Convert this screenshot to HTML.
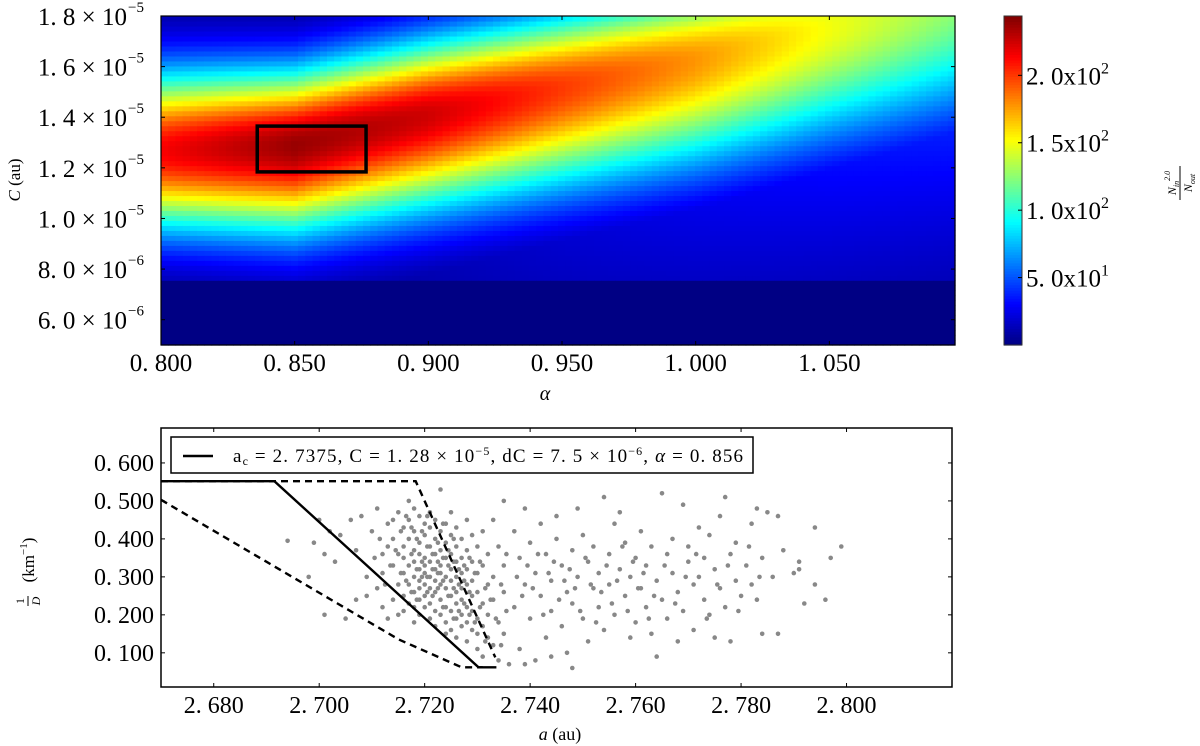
<!DOCTYPE html>
<html><head><meta charset="utf-8"><style>
html,body{margin:0;padding:0;background:#fff;}
svg{display:block;font-family:"Liberation Serif",serif;}
</style></head><body>
<svg id="fig" width="1200" height="746" viewBox="0 0 1200 746">
<g id="heat"></g>
<g id="cbar"></g>
<g id="top-axes"></g>
<g id="bot"></g>
</svg>
<script>
// ---------- top heatmap data ----------
const ridgeAlpha = [0.80, 0.85, 0.90, 0.95, 1.00, 1.05, 1.10];
const ridgeCenter = [1.27, 1.29, 1.41, 1.52, 1.63, 1.76, 1.88]; // x1e-5
const ridgePeak = [215, 238, 225, 200, 178, 150, 125];
const ridgeSigLow = [0.22, 0.24, 0.26, 0.28, 0.30, 0.32, 0.34];
const ridgeSigHigh = [0.22, 0.21, 0.21, 0.21, 0.21, 0.22, 0.22];
const ridgeTail = [0, 8, 18, 28, 36, 44, 50];
const tailSigma = 0.7;
const cutoffC = 0.76; // below this C (x1e-5) values are ~0
const cbarTicks = [50, 100, 150, 200];
const cbarTickLabels = ["5. 0x10", "1. 0x10", "1. 5x10", "2. 0x10"];
const cbarTickExp = ["1", "2", "2", "2"];
const topXTicks = [0.800, 0.850, 0.900, 0.950, 1.000, 1.050];
const topXTickLabels = ["0. 800", "0. 850", "0. 900", "0. 950", "1. 000", "1. 050"];
const topYTicks = [0.6, 0.8, 1.0, 1.2, 1.4, 1.6, 1.8];
const topYMant = ["6. 0", "8. 0", "1. 0", "1. 2", "1. 4", "1. 6", "1. 8"];
const topYExp = ["−6", "−6", "−5", "−5", "−5", "−5", "−5"];
const boxAlpha = [0.836, 0.8767];
const boxC = [1.184, 1.365];

// ---------- bottom scatter data ----------
const botXTicks = [2.68, 2.70, 2.72, 2.74, 2.76, 2.78, 2.80];
const botXTickLabels = ["2. 680", "2. 700", "2. 720", "2. 740", "2. 760", "2. 780", "2. 800"];
const botYTicks = [0.1, 0.2, 0.3, 0.4, 0.5, 0.6];
const botYTickLabels = ["0. 100", "0. 200", "0. 300", "0. 400", "0. 500", "0. 600"];
const solidLine = [[2.670,0.552],[2.6915,0.552],[2.7302,0.062],[2.7336,0.062]];
const dashUpper = [[2.670,0.552],[2.7183,0.552],[2.7334,0.088]];
const dashLower = [[2.670,0.503],[2.7151,0.135],[2.727,0.062],[2.731,0.062]];
const scatter = [[2.694,0.395],[2.699,0.39],[2.701,0.36],[2.703,0.34],[2.701,0.20],[2.698,0.30],[2.705,0.19],[2.707,0.24],[2.700,0.45],[2.702,0.42],[2.704,0.41],[2.706,0.45],[2.707,0.37],[2.709,0.30],[2.708,0.46],[2.710,0.42],[2.711,0.27],[2.709,0.25],[2.712,0.22],[2.713,0.19],[2.711,0.48],[2.713,0.44],[2.714,0.40],[2.712,0.36],[2.714,0.33],[2.715,0.28],
[2.715,0.47],[2.716,0.43],[2.716,0.38],[2.716,0.35],[2.716,0.31],[2.716,0.25],[2.716,0.21],[2.717,0.50],[2.717,0.45],[2.717,0.40],[2.717,0.33],[2.717,0.28],[2.717,0.23],[2.718,0.48],[2.718,0.42],[2.718,0.37],[2.718,0.34],[2.718,0.30],[2.718,0.26],[2.718,0.22],[2.718,0.18],[2.719,0.46],[2.719,0.39],[2.719,0.36],[2.719,0.32],[2.719,0.29],[2.719,0.27],[2.719,0.24],[2.719,0.20],[2.720,0.44],[2.720,0.41],[2.720,0.35],[2.720,0.33],[2.720,0.31],[2.720,0.28],[2.720,0.25],[2.720,0.22],[2.721,0.47],[2.721,0.43],[2.721,0.38],[2.721,0.34],[2.721,0.30],[2.721,0.27],[2.721,0.23],[2.721,0.19],[2.722,0.45],[2.722,0.40],[2.722,0.36],[2.722,0.32],[2.722,0.29],[2.722,0.26],[2.722,0.21],[2.722,0.17],[2.723,0.53],[2.723,0.42],[2.723,0.37],[2.723,0.33],[2.723,0.31],[2.723,0.28],[2.723,0.24],[2.723,0.20],[2.724,0.44],[2.724,0.39],[2.724,0.35],[2.724,0.30],[2.724,0.27],[2.724,0.22],[2.724,0.18],[2.724,0.15],[2.725,0.47],[2.725,0.41],[2.725,0.36],[2.725,0.32],[2.725,0.29],[2.725,0.25],[2.725,0.21],[2.725,0.16],[2.726,0.43],[2.726,0.38],[2.726,0.34],[2.726,0.30],[2.726,0.26],[2.726,0.23],[2.726,0.19],[2.726,0.14],[2.727,0.40],[2.727,0.35],[2.727,0.31],[2.727,0.27],[2.727,0.24],[2.727,0.20],[2.727,0.17],[2.728,0.45],[2.728,0.37],[2.728,0.32],[2.728,0.28],[2.728,0.22],[2.728,0.18],[2.728,0.13],[2.729,0.41],[2.729,0.34],[2.729,0.29],[2.729,0.25],[2.729,0.21],[2.729,0.16],[2.730,0.38],[2.730,0.31],[2.730,0.26],[2.730,0.19],[2.730,0.15],[2.730,0.11],[2.731,0.42],[2.731,0.33],[2.731,0.23],[2.731,0.17],[2.731,0.09],[2.732,0.36],[2.732,0.28],[2.732,0.20],[2.732,0.14],[2.733,0.45],[2.733,0.30],[2.733,0.24],[2.733,0.12],[2.734,0.38],[2.734,0.18],[2.734,0.08],[2.735,0.50],[2.735,0.33],[2.735,0.26],[2.735,0.15],
[2.712,0.31],[2.713,0.38],[2.714,0.24],[2.714,0.45],[2.715,0.36],[2.715,0.20],
[2.7165,0.29],[2.7175,0.36],[2.7185,0.32],[2.7195,0.34],[2.7205,0.30],[2.7215,0.32],[2.7225,0.34],[2.7235,0.29],[2.7245,0.33],[2.7255,0.27],[2.7265,0.32],[2.7275,0.29],[2.7185,0.40],[2.7205,0.38],[2.7225,0.27],[2.7245,0.25],[2.7265,0.21],[2.7285,0.20],
[2.7105,0.35],[2.7115,0.40],[2.7125,0.28],[2.7135,0.33],[2.7145,0.37],[2.7155,0.31],[2.7155,0.42],[2.7165,0.46],[2.7175,0.26],[2.7175,0.43],[2.7185,0.24],[2.7195,0.42],[2.7195,0.30],[2.7205,0.26],[2.7205,0.46],[2.7215,0.36],[2.7215,0.25],[2.7225,0.39],[2.7225,0.31],[2.7235,0.35],[2.7235,0.44],[2.7235,0.22],[2.7245,0.37],[2.7255,0.34],[2.7255,0.40],[2.7255,0.19],[2.7265,0.28],[2.7275,0.33],[2.7275,0.23],[2.7285,0.26],[2.7285,0.35],[2.7295,0.31],[2.7295,0.18],[2.7305,0.22],[2.7305,0.34],[2.7315,0.27],[2.7315,0.13],[2.7325,0.24],[2.7335,0.19],[2.7345,0.28],[2.7345,0.12],[2.7355,0.21],[2.7355,0.36],
[2.737,0.42],[2.737,0.22],[2.738,0.35],[2.738,0.11],[2.739,0.28],[2.739,0.48],[2.740,0.19],[2.740,0.39],[2.741,0.31],[2.741,0.08],[2.742,0.25],[2.742,0.44],[2.743,0.36],[2.743,0.14],[2.744,0.29],[2.744,0.21],[2.745,0.40],[2.745,0.46],[2.746,0.33],[2.746,0.17],[2.747,0.26],[2.747,0.10],[2.748,0.37],[2.748,0.23],[2.749,0.30],[2.749,0.48],[2.750,0.19],[2.750,0.41],[2.751,0.34],[2.751,0.13],[2.752,0.27],[2.752,0.38],[2.753,0.22],[2.753,0.31],[2.754,0.51],[2.754,0.16],[2.755,0.36],[2.755,0.28],[2.756,0.44],[2.756,0.20],[2.757,0.47],[2.757,0.32],[2.758,0.25],[2.758,0.39],[2.759,0.14],[2.759,0.30],[2.760,0.35],[2.760,0.18],[2.761,0.42],[2.761,0.27],[2.762,0.33],[2.762,0.22],[2.763,0.38],[2.763,0.15],[2.764,0.29],[2.764,0.09],[2.765,0.52],[2.765,0.24],[2.766,0.36],[2.766,0.19],[2.767,0.40],[2.767,0.31],[2.768,0.13],[2.768,0.26],[2.769,0.49],[2.769,0.21],[2.770,0.34],[2.770,0.38],[2.771,0.28],[2.771,0.16],[2.772,0.43],[2.772,0.30],[2.773,0.24],[2.773,0.35],[2.774,0.20],[2.774,0.41],[2.775,0.32],[2.775,0.14],[2.776,0.46],[2.776,0.27],[2.777,0.51],[2.777,0.22],[2.778,0.36],[2.778,0.13],[2.779,0.39],[2.779,0.29],[2.780,0.25],[2.781,0.33],[2.782,0.44],[2.782,0.28],[2.783,0.48],[2.783,0.24],[2.784,0.35],[2.784,0.15],[2.785,0.47],[2.786,0.30],[2.787,0.15],[2.787,0.46],[2.788,0.37],[2.790,0.31],[2.791,0.34],[2.791,0.32],[2.792,0.23],[2.794,0.43],[2.794,0.28],[2.796,0.24],[2.797,0.35],[2.799,0.38],
[2.736,0.07],[2.739,0.07],[2.744,0.09],[2.748,0.06],
[2.7375,0.30],[2.7385,0.25],[2.7395,0.33],[2.7405,0.27],[2.7415,0.36],[2.7425,0.20],[2.7435,0.31],[2.7445,0.34],[2.7455,0.24],[2.7465,0.29],[2.7475,0.32],[2.7485,0.27],[2.7495,0.21],[2.7505,0.35],[2.7515,0.28],[2.7525,0.18],[2.7535,0.26],[2.7545,0.33],[2.7555,0.23],[2.7565,0.29],[2.7575,0.38],[2.7585,0.21],[2.7595,0.34],[2.7605,0.27],[2.7615,0.31],[2.7625,0.19],[2.7635,0.25],[2.7655,0.33],[2.7675,0.23],[2.7695,0.30],[2.7715,0.36],[2.7735,0.19],[2.7755,0.28],[2.7775,0.33],[2.7795,0.21],[2.7815,0.38],[2.7835,0.30]];

const NS = "http://www.w3.org/2000/svg";
function mk(tag, attrs, parent){const e=document.createElementNS(NS,tag);for(const k in attrs)e.setAttribute(k,attrs[k]);parent.appendChild(e);return e;}

const T = {x0:161, x1:955, y0:16, y1:345, amin:0.8, amax:1.097, cmin:0.5, cmax:1.8};
const tx = a => T.x0 + (a - T.amin)/(T.amax - T.amin)*(T.x1 - T.x0);
const ty = c => T.y1 - (c - T.cmin)/(T.cmax - T.cmin)*(T.y1 - T.y0);
const CB = {x0:1004, x1:1022, y0:16, y1:345, vmin:0, vmax:244};
const cby = v => CB.y1 - (v - CB.vmin)/(CB.vmax - CB.vmin)*(CB.y1 - CB.y0);
const B = {x0:161, x1:952, y0:428, y1:687, amin:2.67, amax:2.82, vmin:0.01, vmax:0.692};
const bx = a => B.x0 + (a - B.amin)/(B.amax - B.amin)*(B.x1 - B.x0);
const by = v => B.y1 - (v - B.vmin)/(B.vmax - B.vmin)*(B.y1 - B.y0);

function jet(t){t=Math.max(0,Math.min(1,t));const c=x=>Math.round(255*Math.max(0,Math.min(1,x)));
 return `rgb(${c(1.5-Math.abs(4*t-3))},${c(1.5-Math.abs(4*t-2))},${c(1.5-Math.abs(4*t-1))})`;}
function interp(arr, a){
 if(a<=ridgeAlpha[0])return arr[0];
 for(let i=0;i<ridgeAlpha.length-1;i++){if(a<=ridgeAlpha[i+1]){const f=(a-ridgeAlpha[i])/(ridgeAlpha[i+1]-ridgeAlpha[i]);return arr[i]+f*(arr[i+1]-arr[i]);}}
 return arr[arr.length-1];}
function cellValue(a,c){
 if(c<cutoffC)return 1;
 const ctr=interp(ridgeCenter,a),pk=interp(ridgePeak,a);
 const s=c<ctr?interp(ridgeSigLow,a):interp(ridgeSigHigh,a);
 const d=c-ctr;let v=pk*Math.exp(-d*d/(2*s*s));
 if(c<ctr){v=Math.max(v,interp(ridgeTail,a)*Math.exp(-d*d/(2*tailSigma*tailSigma)));}
 return v;}

const heat=document.getElementById('heat');
const NC=110, NR=66;
for(let i=0;i<NC;i++){
 const a0=T.amin+i*(T.amax-T.amin)/NC, a1=T.amin+(i+1)*(T.amax-T.amin)/NC;
 for(let j=0;j<NR;j++){
  const c0=T.cmin+j*(T.cmax-T.cmin)/NR, c1=T.cmin+(j+1)*(T.cmax-T.cmin)/NR;
  const v=cellValue((a0+a1)/2,(c0+c1)/2);
  const r=mk('rect',{x:tx(a0).toFixed(2),y:ty(c1).toFixed(2),width:(tx(a1)-tx(a0)+0.6).toFixed(2),height:(ty(c0)-ty(c1)+0.6).toFixed(2),fill:jet((v-CB.vmin)/(CB.vmax-CB.vmin))},heat);
  
  
 }
}
const ta=document.getElementById('top-axes');
const box=mk('rect',{x:tx(boxAlpha[0]),y:ty(boxC[1]),width:tx(boxAlpha[1])-tx(boxAlpha[0]),height:ty(boxC[0])-ty(boxC[1]),fill:'none',stroke:'#000','stroke-width':3.5},ta);


const tf=mk('rect',{x:T.x0,y:T.y0,width:T.x1-T.x0,height:T.y1-T.y0,fill:'none',stroke:'#000','stroke-width':1.2},ta);


topXTicks.forEach((a,i)=>{
 mk('line',{x1:tx(a),x2:tx(a),y1:T.y1,y2:T.y1-4,stroke:'#000'},ta);mk('line',{x1:tx(a),x2:tx(a),y1:T.y0,y2:T.y0+4,stroke:'#000'},ta);
 const t=mk('text',{x:tx(a),y:371,'text-anchor':'middle','font-size':25},ta);t.textContent=topXTickLabels[i];
 
 
});
topYTicks.forEach((c,i)=>{
 mk('line',{x1:T.x0,x2:T.x0+4,y1:ty(c),y2:ty(c),stroke:'#000'},ta);mk('line',{x1:T.x1,x2:T.x1-4,y1:ty(c),y2:ty(c),stroke:'#000'},ta);
 const t=mk('text',{x:127,y:ty(c)+9,'text-anchor':'end','font-size':25},ta);
 t.textContent=topYMant[i]+" × 10";
 
 
 const e=mk('text',{x:128,y:ty(c)-4,'font-size':15},ta);e.textContent=topYExp[i];
 
 
});
const cb=document.getElementById('cbar');
for(let k=0;k<120;k++){
 const v0=CB.vmin+k*(CB.vmax-CB.vmin)/120, v1=CB.vmin+(k+1)*(CB.vmax-CB.vmin)/120;
 const r=mk('rect',{x:CB.x0,y:cby(v1),width:CB.x1-CB.x0,height:cby(v0)-cby(v1)+0.6,fill:jet((v0+v1)/2/CB.vmax)},cb);
 
 
}
mk('rect',{x:CB.x0,y:CB.y0,width:CB.x1-CB.x0,height:CB.y1-CB.y0,fill:'none',stroke:'#333','stroke-width':1},cb);
cbarTicks.forEach((v,i)=>{
 mk('line',{x1:CB.x1,x2:CB.x1-4,y1:cby(v),y2:cby(v),stroke:'#000'},cb);
 const t=mk('text',{x:1026,y:cby(v)+9,'font-size':25},cb);
 
 
 const m=mk('tspan',{},t);m.textContent=cbarTickLabels[i];
 const e=mk('tspan',{'font-size':16,dy:-11},t);e.textContent=cbarTickExp[i];
});

const bt=document.getElementById('bot');
function path(pts,dash,name){const d=pts.map((p,i)=>(i?'L':'M')+bx(p[0]).toFixed(1)+' '+by(p[1]).toFixed(1)).join(' ');
 const p=mk('path',{d:d,fill:'none',stroke:'#000','stroke-width':2.4,'stroke-dasharray':dash||'none'},bt);
 
 }
scatter.forEach(p=>{
 const c=mk('circle',{cx:bx(p[0]).toFixed(1),cy:by(p[1]).toFixed(1),r:2.3,fill:'#888'},bt);
 
 
});
path(solidLine,null,'solid-boundary-line');
path(dashUpper,'7,5','dashed-upper-line');
path(dashLower,'7,5','dashed-lower-line');
const bf=mk('rect',{x:B.x0,y:B.y0,width:B.x1-B.x0,height:B.y1-B.y0,fill:'none',stroke:'#000','stroke-width':1.5},bt);


botXTicks.forEach((a,i)=>{
 mk('line',{x1:bx(a),x2:bx(a),y1:B.y1,y2:B.y1-4,stroke:'#000'},bt);mk('line',{x1:bx(a),x2:bx(a),y1:B.y0,y2:B.y0+4,stroke:'#000'},bt);
 const t=mk('text',{x:bx(a),y:713,'text-anchor':'middle','font-size':24},bt);t.textContent=botXTickLabels[i];
 
 
});
botYTicks.forEach((v,i)=>{
 mk('line',{x1:B.x0,x2:B.x0+4,y1:by(v),y2:by(v),stroke:'#000'},bt);mk('line',{x1:B.x1,x2:B.x1-4,y1:by(v),y2:by(v),stroke:'#000'},bt);
 const t=mk('text',{x:154,y:by(v)+8,'text-anchor':'end','font-size':24},bt);t.textContent=botYTickLabels[i];
 
 
});
</script>
<script>
const f=document.getElementById('fig');
f.insertAdjacentHTML('beforeend',`
<text x="545" y="400" font-size="20" font-style="italic" text-anchor="middle">α</text>
<text transform="translate(20,180) rotate(-90)" font-size="17" text-anchor="middle"><tspan font-style="italic">C</tspan> (au)</text>
<g transform="translate(1180,183) rotate(-90)" font-size="12" font-style="italic" text-anchor="middle">
<text y="-4">N<tspan font-size="8" dy="3">in</tspan><tspan font-size="8" dy="-9">2.0</tspan></text>
<line x1="-17" x2="17" y1="0" y2="0" stroke="#000" stroke-width="1"/>
<text y="12">N<tspan font-size="8" dy="3">out</tspan></text></g>
<g transform="translate(30,565) rotate(-90)" font-size="17" text-anchor="middle">
<text x="-36" y="-6" font-size="12">1</text><line x1="-41" x2="-31" y1="-2" y2="-2" stroke="#000"/><text x="-36" y="10" font-size="12" font-style="italic">D</text>
<text x="5" y="4">(km<tspan font-size="11" dy="-7">−1</tspan><tspan dy="7">)</tspan></text></g>
<text x="560" y="740" font-size="18" text-anchor="middle"><tspan font-style="italic">a</tspan> (au)</text>
<g>
<rect x="171" y="437" width="582" height="36" fill="#fff" stroke="#000" stroke-width="1.5"/>
<line x1="183" x2="213" y1="456" y2="456" stroke="#000" stroke-width="2.6"/>
<text x="233" y="462" font-size="19" textLength="510" lengthAdjust="spacing">a<tspan font-size="12" dy="3">c</tspan><tspan dy="-3"> = 2. 7375,  C = 1. 28 × 10</tspan><tspan font-size="12" dy="-7">−5</tspan><tspan dy="7">,  dC = 7. 5 × 10</tspan><tspan font-size="12" dy="-7">−6</tspan><tspan dy="7">,  </tspan><tspan font-style="italic">α</tspan> = 0. 856</text>
</g>`);
</script>
</body></html>
